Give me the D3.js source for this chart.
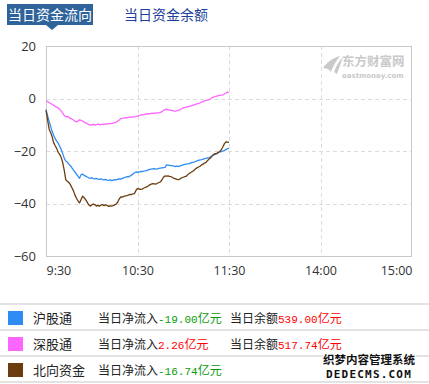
<!DOCTYPE html>
<html><head><meta charset="utf-8">
<script src="https://cdn.jsdelivr.net/npm/d3@7/dist/d3.min.js"></script>
<style>
html,body{margin:0;padding:0;background:#fff;}
svg{display:block;font-family:"Noto Sans CJK SC","Noto Sans",sans-serif;}
</style></head>
<body>
<svg id="c" width="429" height="384"></svg>
<script>
// ---- data ----
const tickMinutes = [0, 60, 120, 180, 240];
const tickLabels = ["9:30", "10:30", "11:30", "14:00", "15:00"];
const yTicks = [20, 0, -20, -40, -60];
const tabs = ["当日资金流向", "当日资金余额"];
const seriesNames = ["沪股通", "深股通", "北向资金"];
const seriesColors = ["#2f8cf5", "#ff66ff", "#6b3c0e"];
const netInflow = ["-19.00", "2.26", "-16.74"];
const balance = ["539.00", "517.74", null];

const shValues = [-4.2,-6.5,-8.5,-10.5,-12.5,-14.0,-15.3,-16.2,-17.0,-18.2,-19.5,-21.0,-22.8,-23.8,-24.2,-25.0,-25.6,-26.4,-27.3,-28.0,
-28.8,-29.6,-30.4,-29.0,-28.8,-29.3,-29.6,-29.9,-30.2,-30.4,-30.2,-30.5,-30.6,-30.4,-30.7,-30.8,-30.6,-30.9,-31.0,-30.8,
-31.1,-31.2,-31.0,-31.3,-31.1,-30.9,-31.0,-30.8,-30.6,-30.7,-30.4,-30.2,-30.0,-29.8,-29.9,-29.6,-29.2,-28.8,-28.3,-28.0,
-28.1,-28.0,-27.8,-27.9,-27.7,-27.6,-27.5,-27.2,-27.0,-26.9,-26.8,-26.7,-26.9,-26.8,-26.6,-26.5,-26.4,-26.3,-26.2,-25.3,
-25.4,-25.5,-25.6,-25.7,-25.8,-25.9,-25.8,-25.9,-25.7,-25.5,-25.3,-25.1,-25.0,-24.9,-24.8,-24.5,-24.3,-24.2,-24.0,-23.8,
-23.6,-23.4,-23.3,-23.1,-22.9,-22.8,-22.6,-22.5,-22.2,-21.8,-21.5,-21.3,-21.0,-20.6,-20.3,-20.2,-20.0,-19.8,-19.5,-19.1,-19.0];

const szValues = [-1.0,-1.2,-1.5,-1.9,-2.2,-2.6,-3.0,-3.3,-3.6,-4.2,-4.8,-5.6,-6.5,-7.0,-6.8,-7.2,-7.6,-7.8,-8.2,-8.6,
-8.9,-8.6,-8.1,-8.3,-8.6,-9.0,-9.3,-9.6,-9.9,-10.1,-10.0,-9.9,-10.1,-10.0,-9.8,-9.9,-10.0,-9.8,-9.9,-9.7,
-9.8,-9.6,-9.5,-9.6,-9.4,-9.2,-9.0,-8.6,-8.2,-7.7,-7.6,-7.5,-7.3,-7.4,-7.2,-7.1,-7.0,-7.1,-7.0,-6.9,
-6.7,-6.5,-6.3,-6.1,-6.2,-6.0,-5.9,-5.8,-5.9,-5.7,-5.6,-5.7,-5.5,-5.6,-5.4,-5.3,-5.0,-4.6,-4.2,-4.1,
-4.2,-4.4,-4.5,-4.6,-4.8,-4.8,-4.6,-4.4,-4.2,-3.9,-3.6,-3.4,-3.3,-3.1,-3.0,-2.8,-2.6,-2.4,-2.2,-2.0,
-1.9,-1.7,-1.4,-1.1,-0.9,-0.7,-0.6,-0.4,-0.1,0.3,0.6,0.7,0.9,1.1,1.2,1.3,1.4,1.7,2.1,2.4,2.26];

const nbValues = [-4.5,-8.0,-11.5,-13.0,-14.5,-16.8,-18.0,-19.0,-20.5,-21.3,-22.5,-24.5,-27.5,-31.0,-31.5,-32.0,-32.8,-34.0,-35.2,-36.8,
-38.0,-39.0,-39.8,-38.5,-37.2,-37.8,-38.5,-39.5,-40.5,-41.0,-40.6,-40.2,-40.4,-41.0,-40.7,-41.0,-40.6,-40.4,-40.8,-40.5,
-40.7,-41.1,-40.9,-41.0,-40.8,-40.5,-40.2,-39.5,-38.3,-37.5,-37.6,-37.3,-37.1,-37.0,-36.8,-36.5,-36.6,-36.3,-36.2,-35.0,
-34.3,-34.4,-34.6,-34.5,-34.2,-33.9,-33.7,-33.3,-32.9,-32.6,-32.4,-32.5,-32.6,-32.3,-32.0,-31.8,-31.0,-30.0,-29.5,-29.6,
-29.5,-29.7,-29.8,-30.1,-30.4,-30.6,-30.8,-30.9,-30.6,-30.2,-30.0,-29.8,-29.6,-29.0,-28.5,-28.2,-27.8,-27.4,-26.8,-26.4,
-26.1,-25.8,-25.3,-25.0,-24.6,-24.3,-23.6,-23.0,-22.6,-21.8,-21.3,-21.0,-20.9,-20.5,-20.2,-19.5,-18.4,-17.2,-16.5,-16.6,-16.74];

const seriesValues = [shValues, szValues, nbValues];

// ---- chart ----
const svg = d3.select("#c");
const L = 46, R = 412, T = 46, B = 256;
const x = d3.scaleLinear().domain([0, 240]).range([L, R]);
const y = d3.scaleLinear().domain([-60, 20]).range([B, T]);

// tabs
svg.append("rect").attr("x", 7).attr("y", 4).attr("width", 86).attr("height", 21).attr("fill", "#2f649b");
svg.append("path").attr("d", "M46,25 L58,25 L52,30 Z").attr("fill", "#2f649b");
svg.append("text").attr("x", 50).attr("y", 20).attr("text-anchor", "middle")
  .attr("fill", "#fff").attr("font-size", 14).text(tabs[0]);
svg.append("text").attr("x", 166).attr("y", 20).attr("text-anchor", "middle")
  .attr("fill", "#1d3f9c").attr("font-size", 14).text(tabs[1]);

// grid
const grid = svg.append("g").attr("stroke", "#dcdcdc").attr("stroke-dasharray", "4,3").attr("stroke-width", 1);
yTicks.filter(v => v > -60 && v < 20).forEach(v => {
  grid.append("line").attr("x1", L).attr("x2", R).attr("y1", Math.round(y(v)) + 0.5).attr("y2", Math.round(y(v)) + 0.5);
});
tickMinutes.filter(m => m > 0 && m < 240).forEach(m => {
  grid.append("line").attr("y1", T).attr("y2", B).attr("x1", Math.round(x(m)) + 0.5).attr("x2", Math.round(x(m)) + 0.5);
});

// border
svg.append("rect").attr("x", L + 0.5).attr("y", T + 0.5).attr("width", R - L - 1).attr("height", B - T)
  .attr("fill", "none").attr("stroke", "#c8c8c8");

// eastmoney watermark
const wm = svg.append("g").attr("fill", "#c9c9c9");
wm.append("path").attr("d", "M323,68 C327,62 333,58 340,56 C336,61 333,66 331,72 C329,69 326,68 323,68 Z");
wm.append("path").attr("d", "M334,72 C336,66 339,61 343,57 C341,63 339,68 337,74 Z");
wm.append("text").attr("x", 342).attr("y", 66).attr("font-size", 12.5).attr("font-weight", "bold").text("东方财富网");
wm.append("text").attr("x", 342).attr("y", 78).attr("font-size", 7).attr("font-family", "DejaVu Sans").attr("font-weight", "bold").text("eastmoney.com");

// axes labels
const yAxis = d3.axisLeft(y).tickValues(yTicks).tickSize(0).tickPadding(10);
const gy = svg.append("g").attr("transform", `translate(${L},0)`).call(yAxis);
gy.select(".domain").remove();
gy.selectAll("text").attr("font-size", 13).attr("fill", "#333").attr("font-family", "'Open Sans','DejaVu Sans',sans-serif");

const xAxis = d3.axisBottom(x).tickValues(tickMinutes).tickSize(0).tickPadding(10).tickFormat((d, i) => tickLabels[i]);
const gx = svg.append("g").attr("transform", `translate(0,${B})`).call(xAxis);
gx.select(".domain").remove();
gx.selectAll("text").attr("font-size", 12.5).attr("fill", "#333").attr("font-family", "'Open Sans','DejaVu Sans',sans-serif")
  .attr("text-anchor", (d, i) => i === 0 ? "start" : (i === tickMinutes.length - 1 ? "end" : "middle"));

// lines
const line = d3.line().x((d, i) => x(i)).y(d => y(d));
[0, 1, 2].forEach(k => {
  svg.append("path").datum(seriesValues[k]).attr("d", line)
    .attr("fill", "none").attr("stroke", seriesColors[k]).attr("stroke-width", 1.3).attr("stroke-linejoin", "round");
});

// legend table
const rowLines = [304, 330, 356, 382];
rowLines.forEach(yy => svg.append("rect").attr("x", 0).attr("y", yy - 1).attr("width", 429).attr("height", 2).attr("fill", "#e3e3e3"));
const rowCenters = [318, 344, 370];
seriesNames.forEach((name, i) => {
  const cy = rowCenters[i];
  svg.append("rect").attr("x", 8).attr("y", cy - 7).attr("width", 15).attr("height", 14).attr("fill", seriesColors[i]);
  svg.append("text").attr("x", 33).attr("y", cy + 5).attr("font-size", 13).attr("fill", "#222").text(name);
  const t = svg.append("text").attr("x", 98).attr("y", cy + 5).attr("font-size", 12).attr("fill", "#222");
  t.append("tspan").text("当日净流入");
  const col = netInflow[i].startsWith("-") ? "#0a9a0a" : "#f00";
  t.append("tspan").attr("fill", col).attr("font-family", "'Liberation Mono',monospace").attr("font-size", 11).text(netInflow[i]);
  t.append("tspan").attr("fill", col).text("亿元");
  if (balance[i]) {
    const t2 = svg.append("text").attr("x", 230).attr("y", cy + 5).attr("font-size", 12).attr("fill", "#222");
    t2.append("tspan").text("当日余额");
    t2.append("tspan").attr("fill", "#f00").attr("font-family", "'Liberation Mono',monospace").attr("font-size", 11).text(balance[i]);
    t2.append("tspan").attr("fill", "#f00").text("亿元");
  }
});

// dedecms stamp
const st = svg.append("g").attr("fill", "#111").attr("stroke", "#fff").attr("stroke-width", 2.5)
  .attr("paint-order", "stroke").attr("font-weight", "bold");
st.append("text").attr("x", 369).attr("y", 364).attr("text-anchor", "middle").attr("font-size", 11.5).text("织梦内容管理系统");
st.append("text").attr("x", 369).attr("y", 378).attr("text-anchor", "middle").attr("font-size", 11)
  .attr("font-family", "'DejaVu Sans Mono',monospace").attr("letter-spacing", 1.2).text("DEDECMS.COM");
</script>
</body></html>
